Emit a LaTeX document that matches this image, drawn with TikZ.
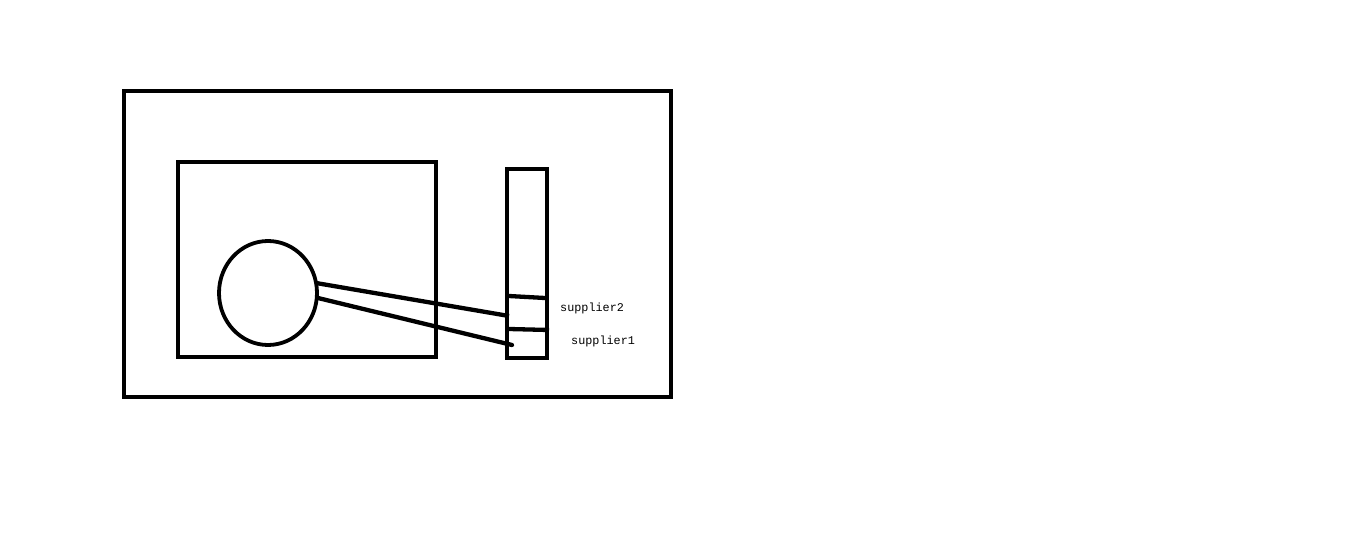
\documentclass[tikz,border=0pt]{standalone}
\usepackage{fontspec}
\setmonofont{Liberation Mono}
\usetikzlibrary{shapes.geometric}
\begin{document}
\begin{tikzpicture}[x=1pt,y=-1pt,
  thick line/.style={line width=4.3pt},
  lbl/.style={font=\ttfamily\fontsize{11.8}{14}\selectfont,inner sep=0pt,anchor=west}]
\useasboundingbox (0,0) rectangle (1360,546);
\draw[thick line] (124,91) rectangle (671,397);
\draw[thick line] (178,162) rectangle (436,357);
\draw[thick line] (507,169) rectangle (547,358);
\node[ellipse,draw,line width=3.8pt,minimum width=98pt,minimum height=104pt,inner sep=0pt] (c) at (268,293) {};
\coordinate (s2a) at (509,296);
\coordinate (s2b) at (545,298);
\coordinate (s1a) at (509,329);
\coordinate (s1b) at (549,330);
\coordinate (e2) at (509,316);
\coordinate (e1) at (512,345);
\coordinate (c1) at (316,283);
\coordinate (c2) at (318,298);
\draw[thick line] (s2a) -- (s2b);
\draw[thick line] (s1a) -- (s1b);
\draw[thick line] (c1) -- (e2);
\draw[thick line,line cap=round] (c2) -- (e1);
\node[lbl] (t2) at (560,308) {supplier2};
\node[lbl] (t1) at (571,341) {supplier1};
\end{tikzpicture}
\end{document}
